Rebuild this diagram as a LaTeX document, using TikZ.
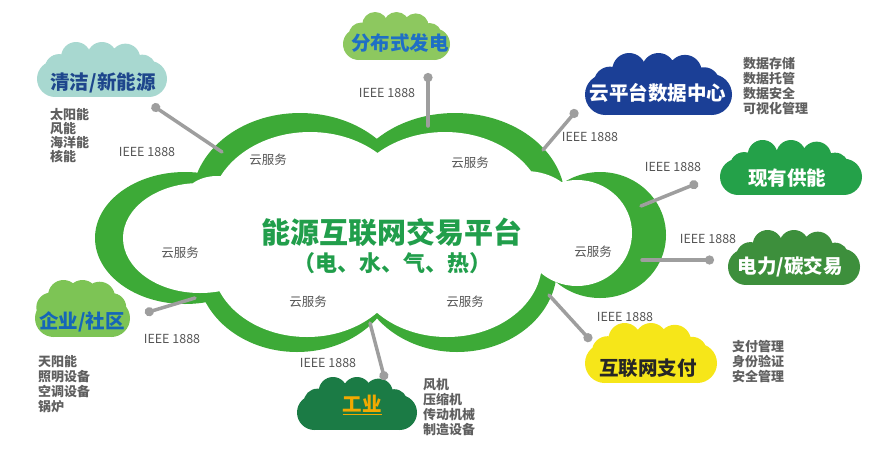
\documentclass[tikz,border=0pt]{standalone}
\usepackage{fontspec}
\setmainfont{Noto Sans CJK SC}
\usepackage{xcolor}
\usetikzlibrary{arrows.meta, positioning}

\definecolor{ringgreen}{RGB}{61,170,55}
\definecolor{titlegreen}{RGB}{33,158,75}
\definecolor{linkgray}{RGB}{158,158,158}
\definecolor{labelgray}{RGB}{85,85,85}
\definecolor{itemgray}{RGB}{95,95,95}
\definecolor{tealcl}{RGB}{168,216,208}
\definecolor{navytxt}{RGB}{30,70,140}
\definecolor{lightgreencl}{RGB}{141,200,95}
\definecolor{bluetxt}{RGB}{31,111,197}
\definecolor{navycl}{RGB}{27,63,150}
\definecolor{supplycl}{RGB}{36,161,73}
\definecolor{carboncl}{RGB}{61,143,60}
\definecolor{corpcl}{RGB}{125,196,85}
\definecolor{corptxt}{RGB}{21,102,184}
\definecolor{industrycl}{RGB}{27,123,69}
\definecolor{industrytxt}{RGB}{242,169,0}
\definecolor{paycl}{RGB}{246,230,25}

\begin{document}
\begin{tikzpicture}[
		x=1pt, y=-1pt,
		every node/.style={inner sep=0pt},
		title/.style={font=\fontsize{29}{31}\selectfont\bfseries, text=titlegreen},
		subtitle/.style={font=\fontsize{22}{24}\selectfont\bfseries, text=titlegreen},
		tag/.style={font=\fontsize{19.5}{21}\selectfont\bfseries},
		ieee/.style={font=\fontsize{12.5}{13}\selectfont, text=labelgray},
		svc/.style={font=\fontsize{12.5}{13}\selectfont, text=labelgray},
		items/.style={font=\fontsize{13}{15}\selectfont\bfseries, text=itemgray, align=left, anchor=north west},
		link/.style={draw=linkgray, line width=3.5pt, line cap=round, -{Circle[length=9pt]}},
		pics/minicloud/.style n args={3}{code={
				\fill[#3] ({-#1/2+0.33*#2},{-0.16*#2}) rectangle ({#1/2-0.33*#2},{0.5*#2});
				\fill[#3] ({-#1/2+0.33*#2},{0.17*#2}) circle[radius={0.33*#2}]
				({#1/2-0.33*#2},{0.17*#2}) circle[radius={0.33*#2}]
				({-0.33*#1},{-0.02*#2}) circle[radius={0.26*#2}]
				({-0.2*#1},{-0.23*#2}) circle[radius={0.27*#2}]
				({0*#1},{-0.23*#2}) circle[radius={0.27*#2}]
				({0.18*#1},{-0.2*#2}) circle[radius={0.27*#2}]
				({0.31*#1},{-0.02*#2}) circle[radius={0.25*#2}];
		}}
		]
		
		\useasboundingbox (0,0) rectangle (878,448);
		
		% Big cloud: green ring
		\fill[ringgreen] (185,238) ellipse[x radius=90, y radius=66]
		(300,200) ellipse[x radius=108, y radius=87]
		(455,200) ellipse[x radius=110, y radius=87]
		(600,235) ellipse[x radius=66, y radius=63]
		(457,268) ellipse[x radius=100, y radius=84]
		(297,268) ellipse[x radius=100, y radius=84]
		(377,235) ellipse[x radius=190, y radius=80];
		\fill[white] (200,238) ellipse[x radius=77, y radius=55]
		(310,212) ellipse[x radius=100, y radius=80]
		(445,212) ellipse[x radius=100, y radius=80]
		(577,233) ellipse[x radius=55, y radius=53]
		(447,262) ellipse[x radius=95, y radius=75]
		(307,262) ellipse[x radius=95, y radius=75]
		(525,206) ellipse[x radius=50, y radius=35]
		(217,202) ellipse[x radius=35, y radius=26]
		(378,235) ellipse[x radius=170, y radius=72];
		
		% Platform title
		\node[title] (platform) at (392,232) {能源互联网交易平台};
		\node[subtitle, below=6pt of platform] (utilities) {（电、水、气、热）};
		
		% Cloud services
		\foreach \p [count=\i] in {(268,160),(470,163),(180,253),(593,252),(308,302),(465,302)}
		\node[svc] (svc\i) at \p {云服务};
		
		% Small clouds
		\pic at (102,69.5) {minicloud={130}{55}{tealcl}};
		\node[tag, text=navytxt] (clean) at (103,83) {清洁/新能源};
		
		\pic at (396.5,36) {minicloud={107}{48}{lightgreencl}};
		\node[tag, text=bluetxt] (distgen) at (400,43) {分布式发电};
		
		\pic at (658.5,84) {minicloud={147}{62}{navycl}};
		\node[tag, text=white] (datacenter) at (658,93) {云平台数据中心};
		
		\pic at (791,167.5) {minicloud={142}{55}{supplycl}};
		\node[tag, text=white] (supply) at (787,178) {现有供能};
		
		\pic at (794,257.5) {minicloud={132}{55}{carboncl}};
		\node[tag, text=white] (carbon) at (790,267) {电力/碳交易};
		
		\pic at (82.5,308.5) {minicloud={95}{57}{corpcl}};
		\node[tag, text=corptxt] (corp) at (82,322) {企业/社区};
		
		\pic at (357,403.5) {minicloud={120}{53}{industrycl}};
		\node[tag, text=industrytxt] (industry) at (362,405) {\underline{工业}};
		
		\pic at (651,353) {minicloud={132}{60}{paycl}};
		\node[tag, text=black!85] (pay) at (648,368) {互联网支付};
		
		% Links
		\coordinate (clean-a) at (222,152);  \coordinate (clean-b) at (152,105);
		\coordinate (dist-a) at (428,126);   \coordinate (dist-b) at (428,73);
		\coordinate (dc-a) at (543,150);     \coordinate (dc-b) at (577,110);
		\coordinate (supply-a) at (641,206); \coordinate (supply-b) at (698,183);
		\coordinate (carbon-a) at (642,260); \coordinate (carbon-b) at (714,260);
		\coordinate (corp-a) at (195,298);   \coordinate (corp-b) at (145,313);
		\coordinate (ind-a) at (370,323);    \coordinate (ind-b) at (385,380);
		\coordinate (pay-a) at (549,295);    \coordinate (pay-b) at (591,341);
		\foreach \k in {clean,dist,dc,supply,carbon,corp,ind,pay}
		\draw[link] (\k-a) -- (\k-b);
		
		% IEEE 1888 labels
		\foreach \p [count=\i] in {(147,152),(387,93),(590,137),(673,167),(708,239),(172,339),(328,363),(625,317)}
		\node[ieee] (ieee\i) at \p {IEEE 1888};
		
		% Item lists
		\node[items, font=\fontsize{13}{14}\selectfont\bfseries] (cleanlist) at (50,108) {太阳能\\风能\\海洋能\\核能};
		\node[items] (dclist) at (743,57) {数据存储\\数据托管\\数据安全\\可视化管理};
		\node[items] (corplist) at (38,355) {天阳能\\照明设备\\空调设备\\锅炉};
		\node[items] (indlist) at (423,378) {风机\\压缩机\\传动机械\\制造设备};
		\node[items] (paylist) at (732,340) {支付管理\\身份验证\\安全管理};
		
	\end{tikzpicture}
\end{document}
